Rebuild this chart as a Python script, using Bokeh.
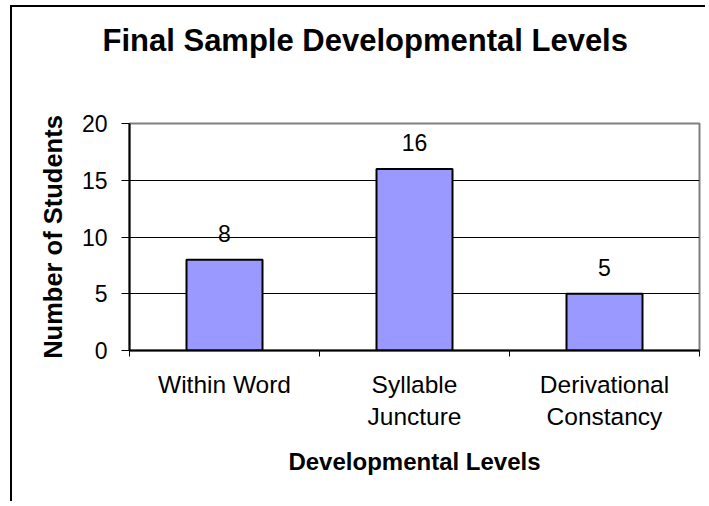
from bokeh.plotting import figure
from bokeh.models import (ColumnDataSource, LabelSet, Title, Range1d, LinearAxis, FixedTicker)
from bokeh.core.properties import value
from bokeh.embed import file_html
from bokeh.resources import INLINE

categories = ["Within Word", "Syllable\nJuncture", "Derivational\nConstancy"]
counts = [8, 16, 5]
y_ticks = [0, 5, 10, 15, 20]
title_text = "Final Sample Developmental  Levels"
x_title = "Developmental Levels"
y_title = "Number of Students"

FONT = "Liberation Sans"

# category slots on a numeric scale: slot i spans [i, i+1], centre at i+0.5
centers = [i + 0.5 for i in range(len(categories))]
edges = list(range(len(categories) + 1))

src = ColumnDataSource(data=dict(x=centers, n=counts, lbl=[str(c) for c in counts]))

p = figure(x_range=Range1d(0, len(categories)), y_range=Range1d(0, 20),
           width=695, height=496, output_backend="svg", toolbar_location=None,
           x_axis_location=None, y_axis_location=None,
           min_border_left=117, min_border_right=8, min_border_top=116, min_border_bottom=153)
p.styles = {"border-left": "2px solid black", "border-top": "2px solid black",
            "margin-left": "10px", "margin-top": "5px"}
p.background_fill_color = "white"
p.border_fill_color = "white"
p.outline_line_color = "#808080"
p.outline_line_width = 2

x_axis = LinearAxis(ticker=FixedTicker(ticks=centers, minor_ticks=edges),
                    major_label_overrides={c: lab for c, lab in zip(centers, categories)},
                    major_tick_out=0, major_tick_in=0, minor_tick_out=6, minor_tick_in=0,
                    axis_line_color="black", axis_line_width=2, minor_tick_line_color="black",
                    minor_tick_line_width=1,
                    major_label_text_font=FONT, major_label_text_font_size="24.5px",
                    major_label_text_color="black", major_label_standoff=14,
                    axis_label=x_title, axis_label_text_font=FONT, axis_label_text_font_size="24px",
                    axis_label_text_font_style="bold", axis_label_text_color="black",
                    axis_label_standoff=15)
p.add_layout(x_axis, "below")

y_axis = LinearAxis(ticker=FixedTicker(ticks=y_ticks), major_tick_out=8, major_tick_in=0,
                    minor_tick_out=0, minor_tick_in=0, axis_line_color="black", axis_line_width=2,
                    major_tick_line_color="black", major_label_text_font=FONT,
                    major_label_text_font_size="23px", major_label_text_color="black",
                    major_label_standoff=14,
                    axis_label=y_title, axis_label_text_font=FONT, axis_label_text_font_size="25.5px",
                    axis_label_text_font_style="bold", axis_label_text_color="black",
                    axis_label_standoff=12)
p.add_layout(y_axis, "left")

p.xgrid.visible = False
p.ygrid.ticker = FixedTicker(ticks=y_ticks)
p.ygrid.grid_line_color = "black"
p.ygrid.grid_line_width = 1

p.vbar(x="x", top="n", width=0.4, source=src, fill_color="#9999FF",
       line_color="black", line_width=2)

labels = LabelSet(x="x", y="n", text="lbl", source=src, text_align="center",
                  text_baseline="middle", y_offset=26, text_font=value(FONT),
                  text_font_size=value("23px"), text_color="black")
p.add_layout(labels)

# spacer keeps the title high above the plot frame
spacer = Title(text=" ", text_font_size="1px", standoff=57)
p.add_layout(spacer, "above")
t = Title(text=title_text, align="left", offset=-27, standoff=12, text_font=FONT,
          text_font_size="31px", text_font_style="bold", text_color="black")
p.add_layout(t, "above")

open("out.html", "w").write(file_html(p, INLINE))
